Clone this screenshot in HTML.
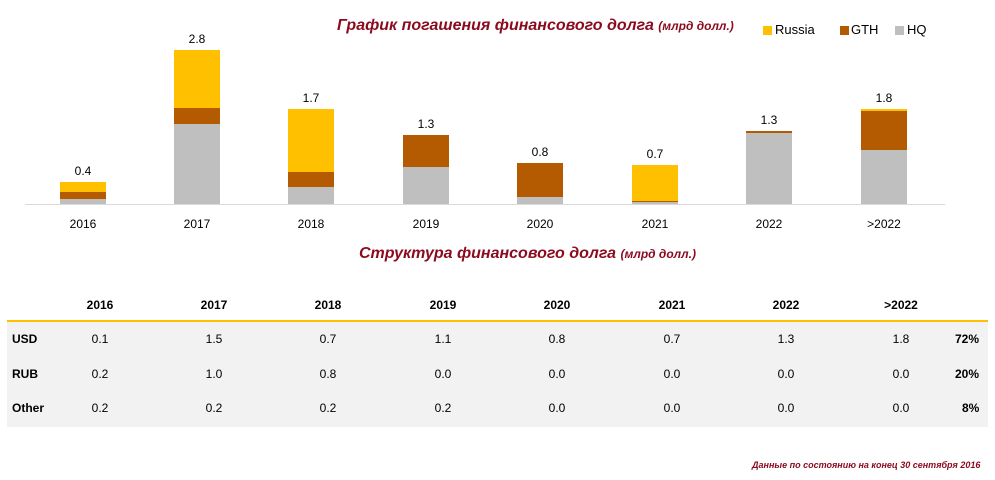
<!DOCTYPE html>
<html><head><meta charset="utf-8"><style>
body{margin:0;width:995px;height:480px;background:#fff;font-family:"Liberation Sans","DejaVu Sans",sans-serif;position:relative;overflow:hidden}
.a{position:absolute}
.t{color:#8b0a1e;font-weight:bold;font-style:italic;font-size:16px;white-space:nowrap}
.td{font-size:12px;text-align:center;width:60px}
</style></head><body>
<div class="a t" style="left:337px;top:17px">График погашения финансового долга <span style="font-size:12px">(млрд долл.)</span></div>
<div class="a" style="left:763px;top:26px;width:9px;height:9px;background:#ffc000"></div>
<div class="a" style="left:775px;top:22px;font-size:13px">Russia</div>
<div class="a" style="left:840px;top:26px;width:9px;height:9px;background:#b45a00"></div>
<div class="a" style="left:851px;top:22px;font-size:13px">GTH</div>
<div class="a" style="left:895px;top:26px;width:9px;height:9px;background:#bfbfbf"></div>
<div class="a" style="left:907px;top:22px;font-size:13px">HQ</div>
<svg class="a" style="left:0;top:0" width="995" height="260">
<g>
<rect x="60" y="182" width="46" height="10" fill="#ffc000"/><rect x="60" y="192" width="46" height="7" fill="#b45a00"/><rect x="60" y="199" width="46" height="5" fill="#bfbfbf"/>
<rect x="174" y="50" width="46" height="58" fill="#ffc000"/><rect x="174" y="108" width="46" height="16" fill="#b45a00"/><rect x="174" y="124" width="46" height="80" fill="#bfbfbf"/>
<rect x="288" y="109" width="46" height="63" fill="#ffc000"/><rect x="288" y="172" width="46" height="15" fill="#b45a00"/><rect x="288" y="187" width="46" height="17" fill="#bfbfbf"/>
<rect x="403" y="135" width="46" height="32" fill="#b45a00"/><rect x="403" y="167" width="46" height="37" fill="#bfbfbf"/>
<rect x="517" y="163" width="46" height="34" fill="#b45a00"/><rect x="517" y="197" width="46" height="7" fill="#bfbfbf"/>
<rect x="632" y="165" width="46" height="36" fill="#ffc000"/><rect x="632" y="201" width="46" height="1" fill="#b45a00"/><rect x="632" y="202" width="46" height="2" fill="#bfbfbf"/>
<rect x="746" y="131" width="46" height="2" fill="#b45a00"/><rect x="746" y="133" width="46" height="71" fill="#bfbfbf"/>
<rect x="861" y="109" width="46" height="2" fill="#ffc000"/><rect x="861" y="111" width="46" height="39" fill="#b45a00"/><rect x="861" y="150" width="46" height="54" fill="#bfbfbf"/>
</g>
<line x1="25" y1="204.5" x2="945" y2="204.5" stroke="#d9d9d9" stroke-width="1"/>
<g font-size="12" text-anchor="middle" font-family="Liberation Sans,sans-serif">
<text x="83" y="175">0.4</text><text x="197" y="43">2.8</text><text x="311" y="102">1.7</text><text x="426" y="128">1.3</text><text x="540" y="156">0.8</text><text x="655" y="158">0.7</text><text x="769" y="124">1.3</text><text x="884" y="102">1.8</text>
<text x="83" y="228">2016</text><text x="197" y="228">2017</text><text x="311" y="228">2018</text><text x="426" y="228">2019</text><text x="540" y="228">2020</text><text x="655" y="228">2021</text><text x="769" y="228">2022</text><text x="884" y="228">&gt;2022</text>
</g>
</svg>
<div class="a t" style="left:359px;top:245px">Структура финансового долга <span style="font-size:12px">(млрд долл.)</span></div>
<div class="a" style="left:7px;top:320px;width:981px;height:105px;background:#f2f2f2;border-top:2px solid #ffc000"></div>
<div class="a" style="left:0;top:298px;font-size:12px;font-weight:bold">
<div class="a td" style="left:70px">2016</div><div class="a td" style="left:184px">2017</div><div class="a td" style="left:298px">2018</div><div class="a td" style="left:413px">2019</div><div class="a td" style="left:527px">2020</div><div class="a td" style="left:642px">2021</div><div class="a td" style="left:756px">2022</div><div class="a td" style="left:871px">&gt;2022</div>
</div>
<div class="a" style="left:12px;top:332px;font-size:12px;font-weight:bold">USD</div>
<div class="a" style="left:12px;top:367px;font-size:12px;font-weight:bold">RUB</div>
<div class="a" style="left:12px;top:401px;font-size:12px;font-weight:bold">Other</div>
<div class="a" style="left:0;top:332px;font-size:12px">
<div class="a td" style="left:70px">0.1</div><div class="a td" style="left:184px">1.5</div><div class="a td" style="left:298px">0.7</div><div class="a td" style="left:413px">1.1</div><div class="a td" style="left:527px">0.8</div><div class="a td" style="left:642px">0.7</div><div class="a td" style="left:756px">1.3</div><div class="a td" style="left:871px">1.8</div>
</div>
<div class="a" style="left:0;top:367px;font-size:12px">
<div class="a td" style="left:70px">0.2</div><div class="a td" style="left:184px">1.0</div><div class="a td" style="left:298px">0.8</div><div class="a td" style="left:413px">0.0</div><div class="a td" style="left:527px">0.0</div><div class="a td" style="left:642px">0.0</div><div class="a td" style="left:756px">0.0</div><div class="a td" style="left:871px">0.0</div>
</div>
<div class="a" style="left:0;top:401px;font-size:12px">
<div class="a td" style="left:70px">0.2</div><div class="a td" style="left:184px">0.2</div><div class="a td" style="left:298px">0.2</div><div class="a td" style="left:413px">0.2</div><div class="a td" style="left:527px">0.0</div><div class="a td" style="left:642px">0.0</div><div class="a td" style="left:756px">0.0</div><div class="a td" style="left:871px">0.0</div>
</div>
<div class="a" style="left:955px;top:332px;font-size:12px;font-weight:bold">72%</div>
<div class="a" style="left:955px;top:367px;font-size:12px;font-weight:bold">20%</div>
<div class="a" style="left:962px;top:401px;font-size:12px;font-weight:bold">8%</div>
<div class="a" style="left:752px;top:460px;font-size:9px;font-weight:bold;font-style:italic;color:#8b0a1e;white-space:nowrap">Данные по состоянию на конец 30 сентября 2016</div>
</body></html>
